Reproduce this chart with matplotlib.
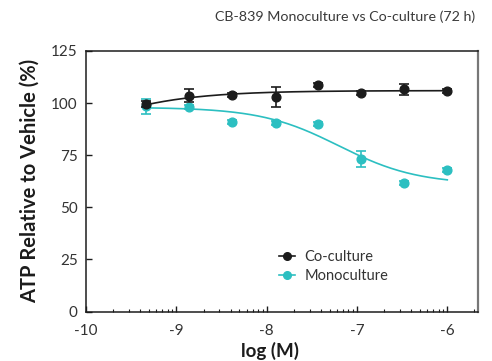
import numpy as np
import matplotlib
matplotlib.use("Agg")
import matplotlib.pyplot as plt

plt.rcParams['font.family'] = ['Lato', 'DejaVu Sans']

# Data (log M concentrations, 3-fold dilutions)
log_conc = [-9.34, -8.86, -8.38, -7.90, -7.43, -6.95, -6.48, -6.00]
co_culture = [99.4, 103.5, 103.7, 102.9, 108.5, 104.7, 106.6, 105.8]
co_culture_err = [1.5, 3.2, 1.0, 4.8, 1.0, 1.0, 2.7, 1.0]
monoculture = [98.5, 98.1, 91.1, 90.4, 90.1, 73.2, 61.7, 67.8]
monoculture_err = [3.7, 1.0, 1.0, 1.0, 1.0, 3.7, 1.0, 1.0]

# Fitted 4PL curve parameters
co_fit = dict(bottom=60.0, top=106.0, logec50=-10.42, hill=0.7)      # increasing
mono_fit = dict(bottom=61.0, top=98.0, logec50=-7.2, hill=1.0)       # decreasing

x_ticks = [-10, -9, -8, -7, -6]
y_ticks = [0, 25, 50, 75, 100, 125]

BLACK = '#1c1c1c'
TEAL = '#2cbfc1'


def curve_up(x, p):
    return p['bottom'] + (p['top'] - p['bottom']) / (1 + 10 ** ((p['logec50'] - x) * p['hill']))


def curve_down(x, p):
    return p['bottom'] + (p['top'] - p['bottom']) / (1 + 10 ** ((x - p['logec50']) * p['hill']))


fig = plt.figure(figsize=(4.92, 3.61), dpi=100)
ax = fig.add_axes([86 / 492, 1 - 311.6 / 361, (478 - 86) / 492, (311.6 - 51) / 361])

xs = np.linspace(min(log_conc), max(log_conc), 200)
ax.plot(xs, curve_down(xs, mono_fit), color=TEAL, lw=1.2, zorder=2)
ax.plot(xs, curve_up(xs, co_fit), color=BLACK, lw=1.2, zorder=3)

ax.errorbar(log_conc, monoculture, yerr=monoculture_err, fmt='o', color=TEAL,
            ms=6.3, capsize=3.5, elinewidth=1.2, capthick=1.2, zorder=4)
ax.errorbar(log_conc, co_culture, yerr=co_culture_err, fmt='o', color=BLACK,
            ms=6.3, capsize=3.5, elinewidth=1.2, capthick=1.2, zorder=5)

# Legend handles
h1, = ax.plot([], [], color=BLACK, marker='o', ms=5.5, lw=1.2, label='Co-culture')
h2, = ax.plot([], [], color=TEAL, marker='o', ms=5.5, lw=1.2, label='Monoculture')
ax.legend(handles=[h1, h2], loc='lower left', bbox_to_anchor=(0.46, 0.06), frameon=False,
          handlelength=1.1, handletextpad=0.6, fontsize=10.5, labelcolor='#333333',
          labelspacing=0.35)

ax.set_xlim(-10, -5.66)
ax.set_ylim(0, 125)
ax.set_xticks(x_ticks)
ax.set_xticklabels([str(t) for t in x_ticks])
minor = [d + np.log10(k) for d in range(-10, -5) for k in range(2, 10)]
ax.set_xticks([m for m in minor if m <= -5.66], minor=True)
ax.set_yticks(y_ticks)

ax.tick_params(axis='both', which='major', direction='in', length=4, width=1,
               labelsize=11, labelcolor='#333333', color=BLACK, pad=6)
ax.tick_params(axis='x', which='major', pad=9)
ax.tick_params(axis='x', which='minor', direction='in', length=2.5, width=0.8, color=BLACK)

for s in ['left', 'bottom', 'top']:
    ax.spines[s].set_color(BLACK)
    ax.spines[s].set_linewidth(1.1)
ax.spines['right'].set_color('#777777')
ax.spines['right'].set_linewidth(1.6)

ax.set_xlabel('log (M)', fontsize=13.5, fontweight='bold', color=BLACK, labelpad=2)
ax.xaxis.set_label_coords((270 - 86) / 392, -0.115, transform=ax.transAxes)
ax.xaxis.label.set_va('top')
ax.set_ylabel('ATP Relative to Vehicle (%)', fontsize=14.5, fontweight='bold', color=BLACK, labelpad=8)
fig.text(475 / 492, 1 - 17 / 361, 'CB-839 Monoculture vs Co-culture (72 h)', ha='right', va='center',
         fontsize=10.3, color='#3a3a3a')

fig.savefig('out.png', dpi=100)
